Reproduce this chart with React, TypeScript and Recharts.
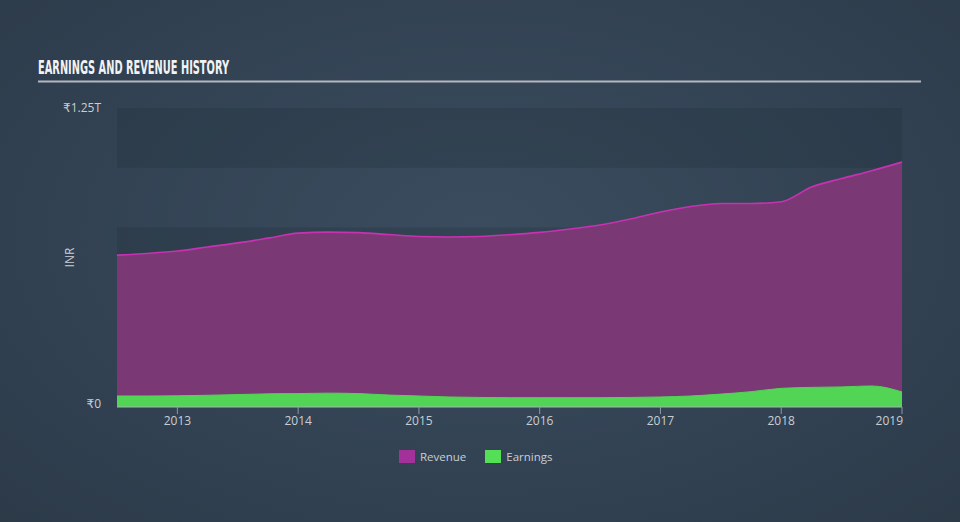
import React from "react";
import { AreaChart, Area, XAxis, YAxis, ReferenceArea, Legend, Label } from "recharts";

// quarter points, fractional years
const periods = [
  2012.5, 2012.75, 2013.0, 2013.25, 2013.5, 2013.75, 2014.0, 2014.25, 2014.5,
  2014.75, 2015.0, 2015.25, 2015.5, 2015.75, 2016.0, 2016.25, 2016.5, 2016.75,
  2017.0, 2017.25, 2017.5, 2017.75, 2018.0, 2018.25, 2018.5, 2018.75, 2019.0,
];

// INR billions
const revenue = [
  635, 642, 652, 669, 686, 706, 727, 731, 729, 721, 713, 711, 713, 720, 730,
  744, 761, 786, 815, 838, 851, 851, 858, 920, 955, 988, 1024,
];

const earnings = [
  46, 46, 47, 49, 52, 55, 56, 58, 56, 50, 46, 42, 40, 39, 39, 39, 39, 40, 42,
  46, 54, 64, 78, 82, 84, 88, 63,
];

const yearTicks = [2013, 2014, 2015, 2016, 2017, 2018, 2019];
const valueTicks = [0, 1250];
const valueLabels = ["₹0", "₹1.25T"];
const bands = [
  [0, 250],
  [500, 750],
  [1000, 1250],
];

const legendItems = [
  { name: "Revenue", color: "#a3319a" },
  { name: "Earnings", color: "#55df57" },
];

const chartData = periods.map((t, i) => ({
  t,
  revenue: revenue[i],
  earnings: earnings[i],
}));

const FONT = "'Open Sans', 'DejaVu Sans', sans-serif";
const TEXT = "#c9ced4";

const YearTick = (props: any) => {
  const { x, y, payload } = props;
  const last = payload.value === yearTicks[yearTicks.length - 1];
  return (
    <text
      x={last ? x + 1 : x}
      y={y}
      dy="0.71em"
      textAnchor={last ? "end" : "middle"}
      fill={TEXT}
      fontSize={12}
      fontFamily={FONT}
    >
      {payload.value}
    </text>
  );
};

const ValueTick = (props: any) => {
  const { x, y, payload } = props;
  const idx = valueTicks.indexOf(payload.value);
  return (
    <text
      x={x}
      y={y}
      dy={payload.value === 0 ? 1 : 4}
      textAnchor="end"
      fill={TEXT}
      fontSize={12}
      fontFamily={FONT}
    >
      {valueLabels[idx]}
    </text>
  );
};

const renderLegend = () => (
  <div style={{ display: "flex", alignItems: "center", fontFamily: FONT, fontSize: 11.5, color: TEXT }}>
    {legendItems.map((item, i) => (
      <div
        key={item.name}
        style={{ display: "flex", alignItems: "center", marginLeft: i === 0 ? 0 : 19 }}
      >
        <span
          style={{ display: "inline-block", width: 16, height: 13, background: item.color, marginRight: 5 }}
        />
        <span>{item.name}</span>
      </div>
    ))}
  </div>
);

export default function App() {
  return (
    <div
      style={{
        position: "absolute",
        left: 0,
        top: 0,
        width: 960,
        height: 522,
        overflow: "hidden",
        background:
          "radial-gradient(ellipse at 50% 45%, #3a4c5e 0%, #324253 60%, #2c3a48 100%)",
      }}
    >
      <svg width={960} height={90} style={{ position: "absolute", left: 0, top: 0 }}>
        <text
          x={38}
          y={74}
          fontFamily="'DejaVu Sans Condensed', 'Liberation Sans Narrow', sans-serif"
          fontWeight="bold"
          fontSize={20}
          textLength={191}
          lengthAdjust="spacingAndGlyphs"
          fill="#f1f2f4"
        >
          EARNINGS AND REVENUE HISTORY
        </text>
        <line x1={38} x2={921} y1={81.5} y2={81.5} stroke="#b3b8bf" strokeWidth={2} />
      </svg>
      <div style={{ position: "absolute", left: 0, top: 0 }}>
        <AreaChart
          width={960}
          height={522}
          data={chartData}
          margin={{ top: 108, right: 58, bottom: 85, left: 57 }}
        >
          {bands.map(([a, b]) => (
            <ReferenceArea
              key={a}
              y1={a}
              y2={b}
              fill="#1c2733"
              fillOpacity={0.22}
              stroke="none"
              ifOverflow="visible"
            />
          ))}
          <XAxis
            dataKey="t"
            type="number"
            domain={[2012.5, 2019]}
            ticks={yearTicks}
            height={30}
            tick={<YearTick />}
            tickSize={7}
            tickMargin={2}
            tickLine={{ stroke: "#8d98a6" }}
            axisLine={{ stroke: "#a9b1bd" }}
            interval={0}
          />
          <YAxis
            type="number"
            domain={[0, 1250]}
            ticks={valueTicks}
            width={60}
            axisLine={false}
            tickLine={false}
            tickSize={0}
            tickMargin={16}
            tick={<ValueTick />}
            interval={0}
          >
            <Label
              content={({ viewBox }: any) => (
                <text
                  x={viewBox.x + 12}
                  y={viewBox.y + viewBox.height / 2}
                  transform={`rotate(-90 ${viewBox.x + 12} ${viewBox.y + viewBox.height / 2})`}
                  textAnchor="middle"
                  dominantBaseline="central"
                  fill={TEXT}
                  fontSize={12}
                  fontFamily={FONT}
                >
                  INR
                </text>
              )}
            />
          </YAxis>
          <Area
            type="monotone"
            dataKey="revenue"
            name="Revenue"
            stroke="#c832b2"
            strokeWidth={1.6}
            fill="#7a3874"
            fillOpacity={1}
            isAnimationActive={false}
          />
          <Area
            type="monotone"
            dataKey="earnings"
            name="Earnings"
            stroke="#52d454"
            strokeWidth={1}
            fill="#52d454"
            fillOpacity={1}
            isAnimationActive={false}
          />
          <Legend
            layout="horizontal"
            verticalAlign="middle"
            align="center"
            content={renderLegend}
            wrapperStyle={{ top: 449, left: 399, width: "auto" }}
          />
        </AreaChart>
      </div>
    </div>
  );
}
